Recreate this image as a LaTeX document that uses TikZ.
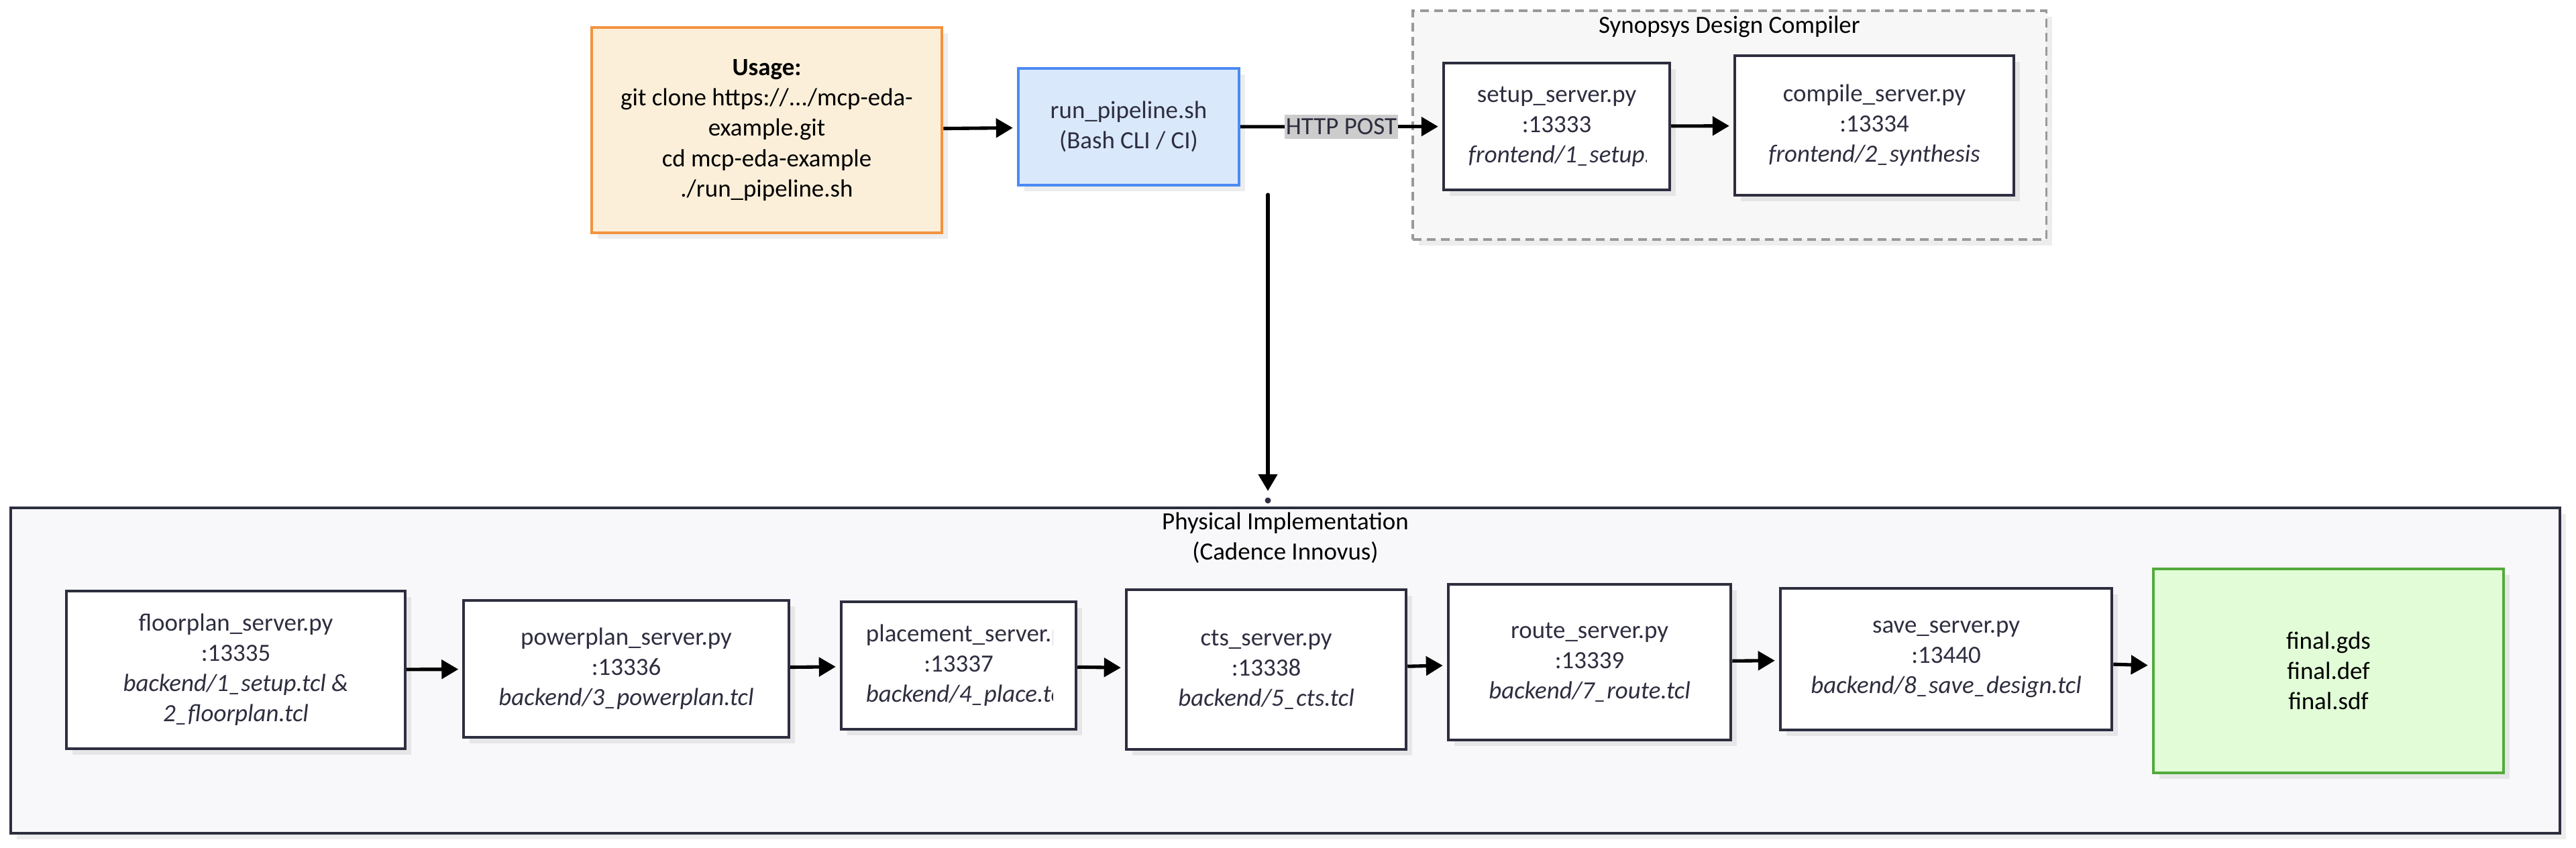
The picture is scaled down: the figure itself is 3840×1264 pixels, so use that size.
\documentclass[tikz,border=0pt]{standalone}
\usepackage{fontspec}
\setmainfont{Carlito}
\usetikzlibrary{arrows.meta,shadows}

\definecolor{ink}{HTML}{2E2E40}
\definecolor{usagefill}{HTML}{FCEFD9}
\definecolor{usageline}{HTML}{F2933F}
\definecolor{runfill}{HTML}{DAE8FC}
\definecolor{runline}{HTML}{4A8AF4}
\definecolor{finalfill}{HTML}{E1FCD6}
\definecolor{finalline}{HTML}{52AA3C}
\definecolor{groupfill}{HTML}{F8F8FA}

\tikzstyle{every node}=[font=\fontsize{10.5pt}{12.8pt}\selectfont]
\tikzstyle{shade}=[drop shadow={shadow xshift=0.09cm,shadow yshift=-0.09cm,fill=black,opacity=0.07}]
\tikzstyle{srvbox}=[rectangle,draw=ink,fill=white,line width=1.2pt,text=ink,align=center,shade]
\tikzstyle{srvtext}=[align=center,text=ink,inner sep=0pt]
\tikzstyle{usagebox}=[rectangle,draw=usageline,fill=usagefill,line width=1.2pt,align=center,shade]
\tikzstyle{runbox}=[rectangle,draw=runline,fill=runfill,line width=1.2pt,text=ink,align=center,shade]
\tikzstyle{finalbox}=[rectangle,draw=finalline,fill=finalfill,line width=1.2pt,align=center,shade]
\tikzstyle{sdcbox}=[rectangle,draw=black!40,fill=black!3,line width=1pt,dash pattern=on 0.13cm off 0.08cm,shade]
\tikzstyle{physbox}=[rectangle,draw=ink,fill=groupfill,line width=1.2pt,shade]
\tikzstyle{title}=[align=center]
\tikzstyle{lbl}=[fill=black!20,text=ink,inner xsep=0.02cm,inner ysep=0.06cm]
\tikzstyle{flow}=[line width=1.45pt,-{Triangle[length=0.25cm,width=0.28cm]},shorten >=0.06cm]
\tikzstyle{pin}=[circle,fill=ink,inner sep=0pt,minimum size=0.09cm]

\begin{document}
\begin{tikzpicture}[x=0.01cm,y=-0.01cm]
		\path[fill=white,use as bounding box] (0,0) rectangle (3840,1264);
		% the two groups first
		\node[sdcbox,minimum width=9.44cm,minimum height=3.41cm] (sdc) at (2578,186.5) {};
		\node[title] (sdctitle) at (2578,40) {Synopsys Design Compiler};
		\node[physbox,minimum width=37.98cm,minimum height=4.85cm] (phys) at (1916,999.5) {};
		\node[title] (phystitle) at (1916,802) {Physical Implementation\\(Cadence Innovus)};

		\node[usagebox,minimum width=5.22cm,minimum height=3.06cm] (usage) at (1143,194) {\textbf{Usage:}\\git clone https://.../mcp-eda-\\example.git\\cd mcp-eda-example\\./run\_pipeline.sh};
		\node[runbox,minimum width=3.29cm,minimum height=1.74cm] (run) at (1682.5,189) {run\_pipeline.sh\\(Bash CLI / CI)};
		\node[srvbox,minimum width=3.37cm,minimum height=1.89cm] (setup) at (2320.5,188.5) {};
		\node[srvbox,minimum width=4.16cm,minimum height=2.08cm] (compile) at (2794,187) {compile\_server.py\\:13334\\\textit{frontend/2\_synthesis}};

		\node[srvbox,minimum width=5.04cm,minimum height=2.35cm] (floorplan) at (351.5,998.5) {floorplan\_server.py\\:13335\\\textit{backend/1\_setup.tcl \&}\\\textit{2\_floorplan.tcl}};
		\node[srvbox,minimum width=4.84cm,minimum height=2.04cm] (powerplan) at (933.5,997) {powerplan\_server.py\\:13336\\\textit{backend/3\_powerplan.tcl}};
		\node[srvbox,minimum width=3.50cm,minimum height=1.90cm] (placement) at (1429,992) {};
		\node[srvbox,minimum width=4.17cm,minimum height=2.38cm] (cts) at (1887.5,998) {cts\_server.py\\:13338\\\textit{backend/5\_cts.tcl}};
		\node[srvbox,minimum width=4.21cm,minimum height=2.32cm] (route) at (2369.5,987) {route\_server.py\\:13339\\\textit{backend/7\_route.tcl}};
		\node[srvbox,minimum width=4.94cm,minimum height=2.11cm] (save) at (2901,982.5) {save\_server.py\\:13440\\\textit{backend/8\_save\_design.tcl}};
		\node[finalbox,minimum width=5.22cm,minimum height=3.04cm] (final) at (3471,1000) {final.gds\\final.def\\final.sdf};

		% texts that run past their box
		\begin{scope}
			\clip ([xshift=0.37cm]setup.south west) rectangle ([xshift=-0.37cm]setup.north east);
			\node[srvtext,text width=2.63cm] at (setup) {setup\_server.py\\:13333\\\textit{\mbox{frontend/1\_setup.tcl}}};
		\end{scope}
		\begin{scope}
			\clip ([xshift=0.37cm]placement.south west) rectangle ([xshift=-0.37cm]placement.north east);
			\node[srvtext,text width=2.76cm] at (placement) {\mbox{placement\_server.py}\\:13337\\\textit{\mbox{backend/4\_place.tcl}}};
		\end{scope}

		\coordinate (drop) at (1890,290);
		\node[pin] (pin) at (1890,746) {};

		\draw[flow] (usage) -- (run);
		\draw[flow] (run) -- node[lbl] (post) {HTTP POST} (setup);
		\draw[flow] (setup) -- (compile);
		\draw[flow,line cap=round,shorten >=0.09cm] (drop) -- (pin);
		\draw[flow] (floorplan) -- (powerplan);
		\draw[flow] (powerplan) -- (placement);
		\draw[flow] (placement) -- (cts);
		\draw[flow] (cts) -- (route);
		\draw[flow] (route) -- (save);
		\draw[flow] (save) -- (final);
\end{tikzpicture}
\end{document}
